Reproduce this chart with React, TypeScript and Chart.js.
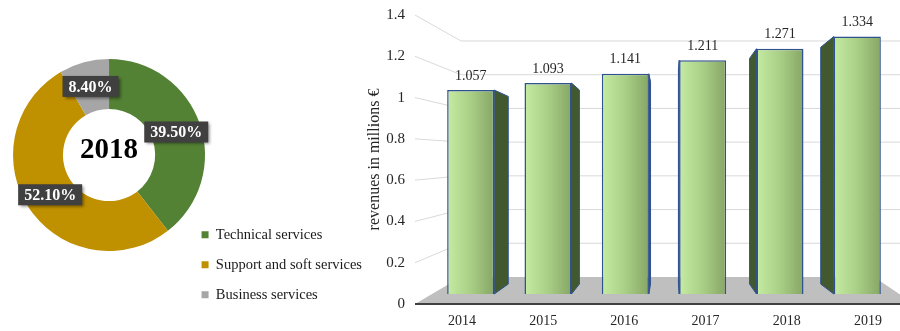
import { useEffect, useRef } from 'react';
import { Chart, registerables } from 'chart.js';

Chart.register(...registerables);

// ---------- data ----------
const SHARE_LABELS = ['Technical services', 'Support and soft services', 'Business services'];
const SHARE_VALUES = [39.5, 52.1, 8.4];
const SHARE_COLORS = ['#548235', '#bf9000', '#a6a6a6'];
const DONUT_YEAR = '2018';

const YEARS = ['2014', '2015', '2016', '2017', '2018', '2019'];
const REVENUES = [1.057, 1.093, 1.141, 1.211, 1.271, 1.334];
const Y_TICKS = [0, 0.2, 0.4, 0.6, 0.8, 1, 1.2, 1.4];
const Y_TITLE = 'revenues in millions €';

const SERIF = "'Liberation Serif', 'Times New Roman', serif";

// ---------- donut plugins ----------
const donutDecor = {
  id: 'donutDecor',
  afterDatasetsDraw(chart: any) {
    const { ctx } = chart;
    const meta = chart.getDatasetMeta(0);
    ctx.save();
    meta.data.forEach((arc: any, i: number) => {
      const p = arc.tooltipPosition(true);
      const txt = SHARE_VALUES[i].toFixed(2) + '%';
      ctx.font = `bold 16px ${SERIF}`;
      const w = ctx.measureText(txt).width + 12;
      const h = 21;
      ctx.save();
      ctx.shadowColor = 'rgba(0,0,0,0.45)';
      ctx.shadowBlur = 3;
      ctx.shadowOffsetX = 2;
      ctx.shadowOffsetY = 2;
      ctx.fillStyle = '#404040';
      ctx.fillRect(p.x - w / 2, p.y - h / 2, w, h);
      ctx.restore();
      ctx.fillStyle = '#ffffff';
      ctx.textAlign = 'center';
      ctx.textBaseline = 'middle';
      ctx.fillText(txt, p.x, p.y + 1);
    });
    const c = meta.data[0];
    if (c) {
      ctx.font = `bold 29px ${SERIF}`;
      ctx.fillStyle = '#000000';
      ctx.textAlign = 'center';
      ctx.textBaseline = 'middle';
      ctx.fillText(DONUT_YEAR, c.x, c.y - 4);
    }
    ctx.restore();
  },
};

// ---------- bar chart 3D plugin ----------
const threeD = {
  id: 'threeD',
  beforeDatasetsDraw(chart: any) {
    const { ctx, chartArea: a, scales } = chart;
    const yF = scales.y;
    const yB = scales.yBack;
    const frontX = a.left - 17;
    const backX = a.left + 29;
    const backRight = a.right - 22;
    const edge = chart.width;
    const f0 = yF.getPixelForValue(0);
    const b0 = yB.getPixelForValue(0);
    ctx.save();
    // floor
    ctx.fillStyle = '#bfbfbf';
    ctx.beginPath();
    ctx.moveTo(frontX, f0);
    ctx.lineTo(backX, b0);
    ctx.lineTo(backRight, b0);
    ctx.lineTo(edge + 14, f0);
    ctx.closePath();
    ctx.fill();
    // wall gridlines
    ctx.strokeStyle = '#d9d9d9';
    ctx.lineWidth = 1;
    Y_TICKS.forEach((v) => {
      if (v === 0) return;
      const fy = yF.getPixelForValue(v);
      const by = yB.getPixelForValue(v);
      ctx.beginPath();
      ctx.moveTo(frontX, fy);
      ctx.lineTo(backX, by);
      ctx.lineTo(edge, by);
      ctx.stroke();
    });
    // front floor edge
    ctx.strokeStyle = '#404040';
    ctx.lineWidth = 2;
    ctx.beginPath();
    ctx.moveTo(frontX, f0);
    ctx.lineTo(edge, f0);
    ctx.stroke();

    // bar side faces (perspective toward a vanishing point)
    const meta = chart.getDatasetMeta(0);
    const VX = a.left + 238;
    const VY = 170;
    const S = 0.92;
    const px = (x: number) => VX + S * (x - VX);
    const py = (y: number) => VY + S * (y - VY);
    ctx.fillStyle = '#42592f';
    ctx.strokeStyle = '#2f528f';
    ctx.lineWidth = 1;
    meta.data.forEach((bar: any) => {
      const { x, y, base, width } = bar.getProps(['x', 'y', 'base', 'width'], true);
      const l = x - width / 2;
      const r = x + width / 2;
      const face = (ex: number) => {
        ctx.beginPath();
        ctx.moveTo(ex, y);
        ctx.lineTo(px(ex), py(y));
        ctx.lineTo(px(ex), py(base));
        ctx.lineTo(ex, base);
        ctx.closePath();
        ctx.fill();
        ctx.stroke();
      };
      if (px(r) > r + 0.5) face(r);
      if (px(l) < l - 0.5) face(l);
    });
    ctx.restore();
  },
  afterDatasetsDraw(chart: any) {
    const { ctx } = chart;
    const meta = chart.getDatasetMeta(0);
    ctx.save();
    ctx.font = `14px ${SERIF}`;
    ctx.fillStyle = '#262626';
    ctx.textAlign = 'center';
    ctx.textBaseline = 'middle';
    meta.data.forEach((bar: any, i: number) => {
      ctx.fillText(REVENUES[i].toFixed(3), bar.x, bar.y - 14);
    });
    ctx.restore();
  },
};

function barFill(c: any) {
  const chart = c.chart;
  const xs = chart.scales && chart.scales.x;
  if (!xs || c.dataIndex === undefined) return '#a9d18e';
  const cx = xs.getPixelForValue(c.dataIndex);
  if (!Number.isFinite(cx)) return '#a9d18e';
  const half = 24;
  const g = chart.ctx.createLinearGradient(cx - half, 0, cx + half, 0);
  g.addColorStop(0, '#c6eca4');
  g.addColorStop(0.5, '#a9cf86');
  g.addColorStop(1, '#86a565');
  return g;
}

export default function App() {
  const donutRef = useRef<HTMLCanvasElement>(null);
  const barRef = useRef<HTMLCanvasElement>(null);

  useEffect(() => {
    const donut = new Chart(donutRef.current as HTMLCanvasElement, {
      type: 'doughnut',
      data: {
        labels: SHARE_LABELS,
        datasets: [
          {
            data: SHARE_VALUES,
            backgroundColor: SHARE_COLORS,
            borderWidth: 0,
          },
        ],
      },
      options: {
        animation: false,
        responsive: false,
        radius: 96,
        cutout: '48%',
        layout: { padding: { left: 32, right: 18, top: 2.5, bottom: 13.5 } },
        plugins: {
          legend: {
            display: true,
            position: 'right',
            align: 'end',
            maxWidth: 400,
            labels: {
              boxWidth: 7,
              boxHeight: 7,
              padding: 15.5,
              color: '#1a1a1a',
              font: { family: SERIF, size: 14.5 },
            },
          },
          tooltip: { enabled: false },
        },
      } as any,
      plugins: [donutDecor],
    });

    const bar = new Chart(barRef.current as HTMLCanvasElement, {
      type: 'bar',
      data: {
        labels: YEARS,
        datasets: [
          {
            data: REVENUES,
            xAxisID: 'x',
            yAxisID: 'yBar',
            backgroundColor: barFill,
            borderColor: '#2f528f',
            borderWidth: 1.5,
            barPercentage: 0.608,
            categoryPercentage: 1,
          },
        ],
      },
      options: {
        animation: false,
        responsive: false,
        layout: { padding: { top: 15, right: 4, left: 0, bottom: 0 } },
        plugins: { legend: { display: false }, tooltip: { enabled: false } },
        scales: {
          x: { type: 'category', display: false, offset: true, grid: { offset: true } },
          xLab: {
            type: 'linear',
            position: 'bottom',
            offset: false,
            min: -0.369,
            max: 5.345,
            grid: { display: false, drawTicks: false, offset: false },
            border: { display: false },
            ticks: {
              padding: 9,
              autoSkip: false,
              maxRotation: 0,
              color: '#262626',
              font: { family: SERIF, size: 14 },
              callback: (v: any) => YEARS[v] ?? '',
            },
            afterBuildTicks: (s: any) => {
              s.ticks = YEARS.map((_, i) => ({ value: i }));
            },
            afterFit: (s: any) => {
              s.height = 27;
              s.paddingLeft = 0;
              s.paddingRight = 0;
            },
          },
          y: {
            type: 'linear',
            position: 'left',
            min: 0,
            max: 1.4,
            grid: { display: false, drawTicks: false },
            border: { display: false },
            ticks: {
              padding: 27,
              color: '#262626',
              font: { family: SERIF, size: 15 },
              callback: (v: any) => String(v),
            },
            afterBuildTicks: (s: any) => {
              s.ticks = Y_TICKS.map((v) => ({ value: v }));
            },
            title: {
              display: true,
              text: Y_TITLE,
              color: '#262626',
              font: { family: SERIF, size: 16 },
              padding: { top: 25.4, bottom: 0 },
            },
            afterFit: (s: any) => {
              s.width = 92;
              s.paddingTop = 8;
              s.paddingBottom = 8;
            },
          },
          yBar: { type: 'linear', display: false, min: -0.0518, max: 1.4456 },
          yBack: { type: 'linear', display: false, min: -0.1602, max: 1.5542 },
        },
      } as any,
      plugins: [threeD],
    });

    return () => {
      donut.destroy();
      bar.destroy();
    };
  }, []);

  return (
    <div
      style={{
        position: 'fixed',
        left: 0,
        top: 0,
        width: 900,
        height: 331,
        background: '#ffffff',
        overflow: 'hidden',
      }}
    >
      <canvas
        ref={donutRef}
        width={390}
        height={341}
        style={{ position: 'absolute', left: 0, top: -10, width: 390, height: 341 }}
      />
      <canvas
        ref={barRef}
        width={560}
        height={331}
        style={{ position: 'absolute', left: 340, top: 0, width: 560, height: 331 }}
      />
    </div>
  );
}
